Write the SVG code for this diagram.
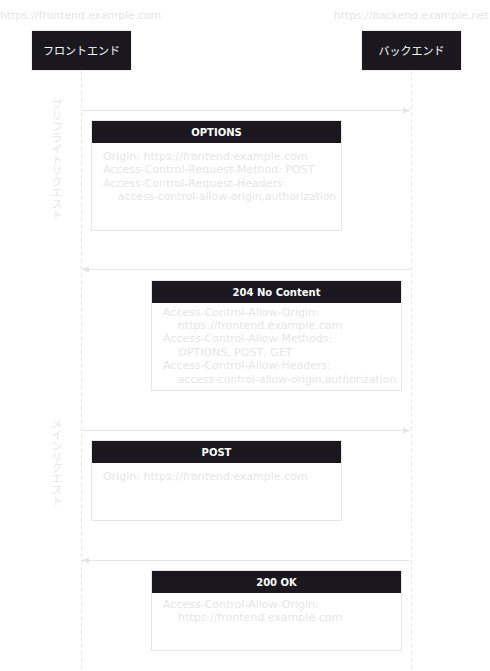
<svg xmlns="http://www.w3.org/2000/svg" width="490" height="671" viewBox="0 0 490 671">
  <defs>
    <marker id="arrow" viewBox="0 0 10 10" refX="9" refY="5" markerWidth="8" markerHeight="8" orient="auto-start-reverse" markerUnits="userSpaceOnUse">
      <path d="M0,1 L10,5 L0,9 Z" fill="#e6e6e6"/>
    </marker>
    <style>
      .url { font-family: "DejaVu Sans", Verdana, sans-serif; font-size: 10.8px; fill: #e6e6e6; }
      .actor rect { fill: #1a171f; stroke: #eeeeee; stroke-width: 1; }
      .actor text { font-family: "Noto Sans CJK JP", sans-serif; font-size: 11px; fill: #ffffff; text-anchor: middle; }
      .life { stroke: #e6e6e6; stroke-width: 1; stroke-dasharray: 4 3; fill: none; }
      .msg { stroke: #e6e6e6; stroke-width: 1; fill: none; }
      .phase { font-family: "Noto Sans CJK JP", sans-serif; font-size: 11px; fill: #e6e6e6; writing-mode: vertical-rl; text-orientation: upright; }
      .card .frame { fill: #ffffff; stroke: #e6e6e6; stroke-width: 1; }
      .card .head { fill: #1a171f; }
      .card .title { font-family: "DejaVu Sans", Verdana, sans-serif; font-size: 10px; font-weight: bold; fill: #ffffff; text-anchor: middle; }
      .card .body { font-family: "DejaVu Sans", Verdana, sans-serif; font-size: 11px; fill: #e6e6e6; }
    </style>
  </defs>

  <!-- origins -->
  <text class="url" x="0" y="19">https://frontend.example.com</text>
  <text class="url" x="489" y="19" text-anchor="end">https://backend.example.net</text>

  <!-- lifelines and messages -->
  <g id="connectors">
    <line class="life" x1="81.5" y1="70" x2="81.5" y2="671"/>
    <line class="life" x1="411.5" y1="70" x2="411.5" y2="671"/>
    <line class="msg" x1="82" y1="110.5" x2="410" y2="110.5" marker-end="url(#arrow)"/>
    <line class="msg" x1="410" y1="269.5" x2="82" y2="269.5" marker-end="url(#arrow)"/>
    <line class="msg" x1="82" y1="430.5" x2="410" y2="430.5" marker-end="url(#arrow)"/>
    <line class="msg" x1="410" y1="560.5" x2="82" y2="560.5" marker-end="url(#arrow)"/>
  </g>

  <g id="frontend" class="actor">
    <rect x="31.5" y="30.5" width="100" height="40"/>
    <text x="81.5" y="54.5">フロントエンド</text>
  </g>
  <g id="backend" class="actor">
    <rect x="361.5" y="30.5" width="100" height="40"/>
    <text x="411.5" y="54.5">バックエンド</text>
  </g>

  <!-- phase labels -->
  <text class="phase" x="57" y="99">プリフライトリクエスト</text>
  <text class="phase" x="57" y="418">メインリクエスト</text>

  <g id="options" class="card">
    <rect class="frame" x="91.5" y="120.5" width="250" height="110"/>
    <rect class="head" x="92" y="121" width="249" height="22"/>
    <text class="title" x="216.5" y="136">OPTIONS</text>
    <text class="body" x="103" y="160">Origin: https://frontend.example.com</text>
    <text class="body" x="103" y="173">Access-Control-Request-Method: POST</text>
    <text class="body" x="103" y="187">Access-Control-Request-Headers:</text>
    <text class="body" x="118" y="200" textLength="218" lengthAdjust="spacingAndGlyphs">access-control-allow-origin,authorization</text>
  </g>

  <g id="no-content" class="card">
    <rect class="frame" x="151.5" y="280.5" width="250" height="110"/>
    <rect class="head" x="152" y="281" width="249" height="22"/>
    <text class="title" x="276.5" y="296">204 No Content</text>
    <text class="body" x="163" y="316">Access-Control-Allow-Origin:</text>
    <text class="body" x="178" y="329">https://frontend.example.com</text>
    <text class="body" x="163" y="342">Access-Control-Allow-Methods:</text>
    <text class="body" x="178" y="356">OPTIONS, POST, GET</text>
    <text class="body" x="163" y="369">Access-Control-Allow-Headers:</text>
    <text class="body" x="178" y="383" textLength="218" lengthAdjust="spacingAndGlyphs">access-control-allow-origin,authorization</text>
  </g>

  <g id="post" class="card">
    <rect class="frame" x="91.5" y="440.5" width="250" height="80"/>
    <rect class="head" x="92" y="441" width="249" height="22"/>
    <text class="title" x="216.5" y="456">POST</text>
    <text class="body" x="103" y="480">Origin: https://frontend.example.com</text>
  </g>

  <g id="ok" class="card">
    <rect class="frame" x="151.5" y="570.5" width="250" height="80"/>
    <rect class="head" x="152" y="571" width="249" height="22"/>
    <text class="title" x="276.5" y="586">200 OK</text>
    <text class="body" x="163" y="608">Access-Control-Allow-Origin:</text>
    <text class="body" x="178" y="621">https://frontend.example.com</text>
  </g>
</svg>
